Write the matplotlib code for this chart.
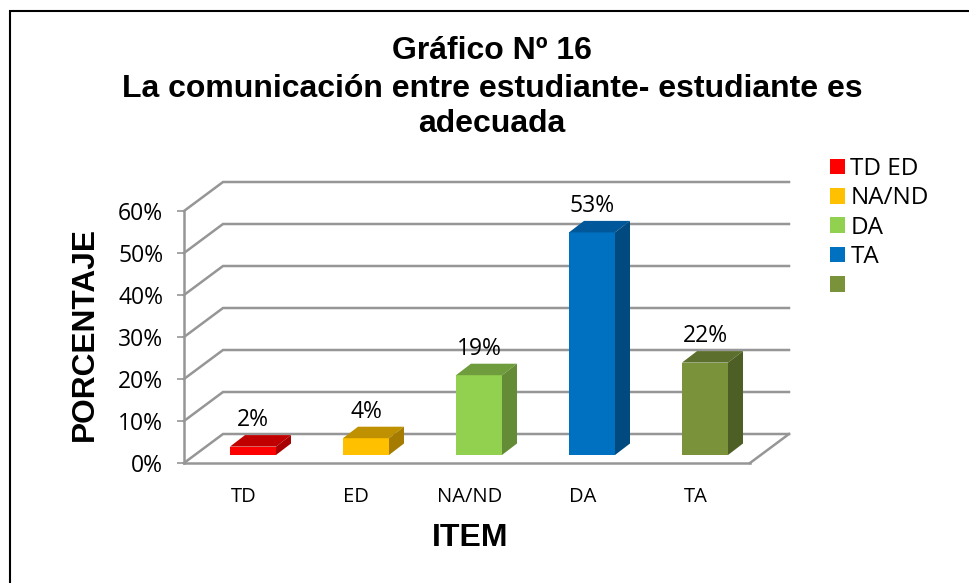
import matplotlib
matplotlib.use("Agg")
import matplotlib.pyplot as plt
from matplotlib.lines import Line2D
from matplotlib.patches import Patch, Polygon, Rectangle

categories = ["TD", "ED", "NA/ND", "DA", "TA"]
values = [2, 4, 19, 53, 22]
legend_labels = ["TD ED", "NA/ND", "DA", "TA", ""]
y_ticks = [0, 10, 20, 30, 40, 50, 60]

front_colors = ["#FF0000", "#FFC000", "#92D050", "#0070C0", "#7A933B"]
top_colors = ["#C00000", "#BF9000", "#6F9C3D", "#00589A", "#5C6F2D"]
side_colors = ["#A80000", "#A67C00", "#648C36", "#004A80", "#4E5F26"]

W, H = 969, 583
BODY = "Open Sans"
ARIAL = "Liberation Sans"
GRID = "#969696"

fig = plt.figure(figsize=(W / 100, H / 100), dpi=100, facecolor="white")

# front plane of the fake 3d box, in pixels
left, right, y0, y60 = 184, 750, 463, 211
ax = fig.add_axes([left / W, 1 - y0 / H, (right - left) / W, (y0 - y60) / H])
px_x = 113.0  # pixels per category
px_y = (y0 - y60) / 60
ax.set_xlim((left - 253) / px_x, (right - 253) / px_x)
ax.set_ylim(0, 60)
ax.patch.set_alpha(0)


def off(dx, dy):
    # pixel offset -> data units
    return dx / px_x, dy / px_y


xmin, xmax = ax.get_xlim()
bx, by = off(39, 29)

# back wall gridlines and their side returns
for t in y_ticks:
    ax.plot([xmin, xmin + bx, xmax + bx], [t, t + by, t + by], color=GRID,
            lw=1.8, clip_on=False, zorder=1, solid_joinstyle="miter")
# floor
ax.plot([xmax, xmax + bx], [0, by], color=GRID, lw=1.8, clip_on=False, zorder=1)

# bars
fx, fy = off(0, 8)
dx, dy = off(15, 11.5)
w = 46 / px_x
lab_dy = off(0, 9)[1]
for i, v in enumerate(values):
    x0 = i - w / 2
    x1 = i + w / 2
    b = fy
    t = fy + v
    ax.add_patch(Rectangle((x0, b), w, v, fc=front_colors[i], ec="none",
                           clip_on=False, zorder=3))
    ax.add_patch(Polygon([(x0, t), (x1, t), (x1 + dx, t + dy), (x0 + dx, t + dy)],
                         fc=top_colors[i], ec="none", clip_on=False, zorder=3))
    ax.add_patch(Polygon([(x1, b), (x1 + dx, b + dy), (x1 + dx, t + dy), (x1, t)],
                         fc=side_colors[i], ec="none", clip_on=False, zorder=3))
    ax.text(i, t + dy + lab_dy, f"{v}%", ha="center", va="baseline", fontsize=16.5,
            family=BODY, color="black", zorder=4)

ax.spines["top"].set_visible(False)
ax.spines["right"].set_visible(False)
for s in ("left", "bottom"):
    ax.spines[s].set_color(GRID)
    ax.spines[s].set_linewidth(1.8)

ax.set_yticks(y_ticks)
ax.set_yticklabels([f"{t}%" for t in y_ticks], fontsize=16.5, family=BODY)
ax.tick_params(axis="y", length=5, width=1.2, color=GRID, pad=10)
ax.set_xticks([i - 0.085 for i in range(len(categories))])
ax.set_xticklabels(categories, fontsize=14.5, family=BODY)
ax.tick_params(axis="x", length=0, pad=17)

fig.text(85 / W, 1 - 334 / H, "PORCENTAJE", rotation=90, ha="center", va="center",
         fontsize=22.8, fontweight="bold", family=ARIAL)
fig.text(470 / W, 1 - 538 / H, "ITEM", ha="center", va="center",
         fontsize=23, fontweight="bold", family=ARIAL)

title_lines = ["Gráfico Nº 16", "La comunicación entre estudiante- estudiante es", "adecuada"]
for line, yp in zip(title_lines, [51, 89, 124]):
    fig.text(492 / W, 1 - yp / H, line, ha="center", va="center", fontsize=23,
             fontweight="bold", family=ARIAL)

handles = [Patch(fc=c, ec="none") for c in front_colors]
fig.legend(handles, legend_labels, loc="upper left", bbox_to_anchor=(830 / W, 1 - 157 / H),
           frameon=False, handlelength=0.62, handleheight=0.62,
           handletextpad=0.22, labelspacing=0.22, borderpad=0, borderaxespad=0,
           prop={"family": BODY, "size": 17.5})

# outer chart border, only top and left are in the picture
fig.add_artist(Line2D([10 / W, 10 / W, 968 / W], [0, 1 - 11 / H, 1 - 11 / H],
                      transform=fig.transFigure, color="black", lw=1.5,
                      solid_joinstyle="miter"))

fig.savefig("out.png", dpi=100)
